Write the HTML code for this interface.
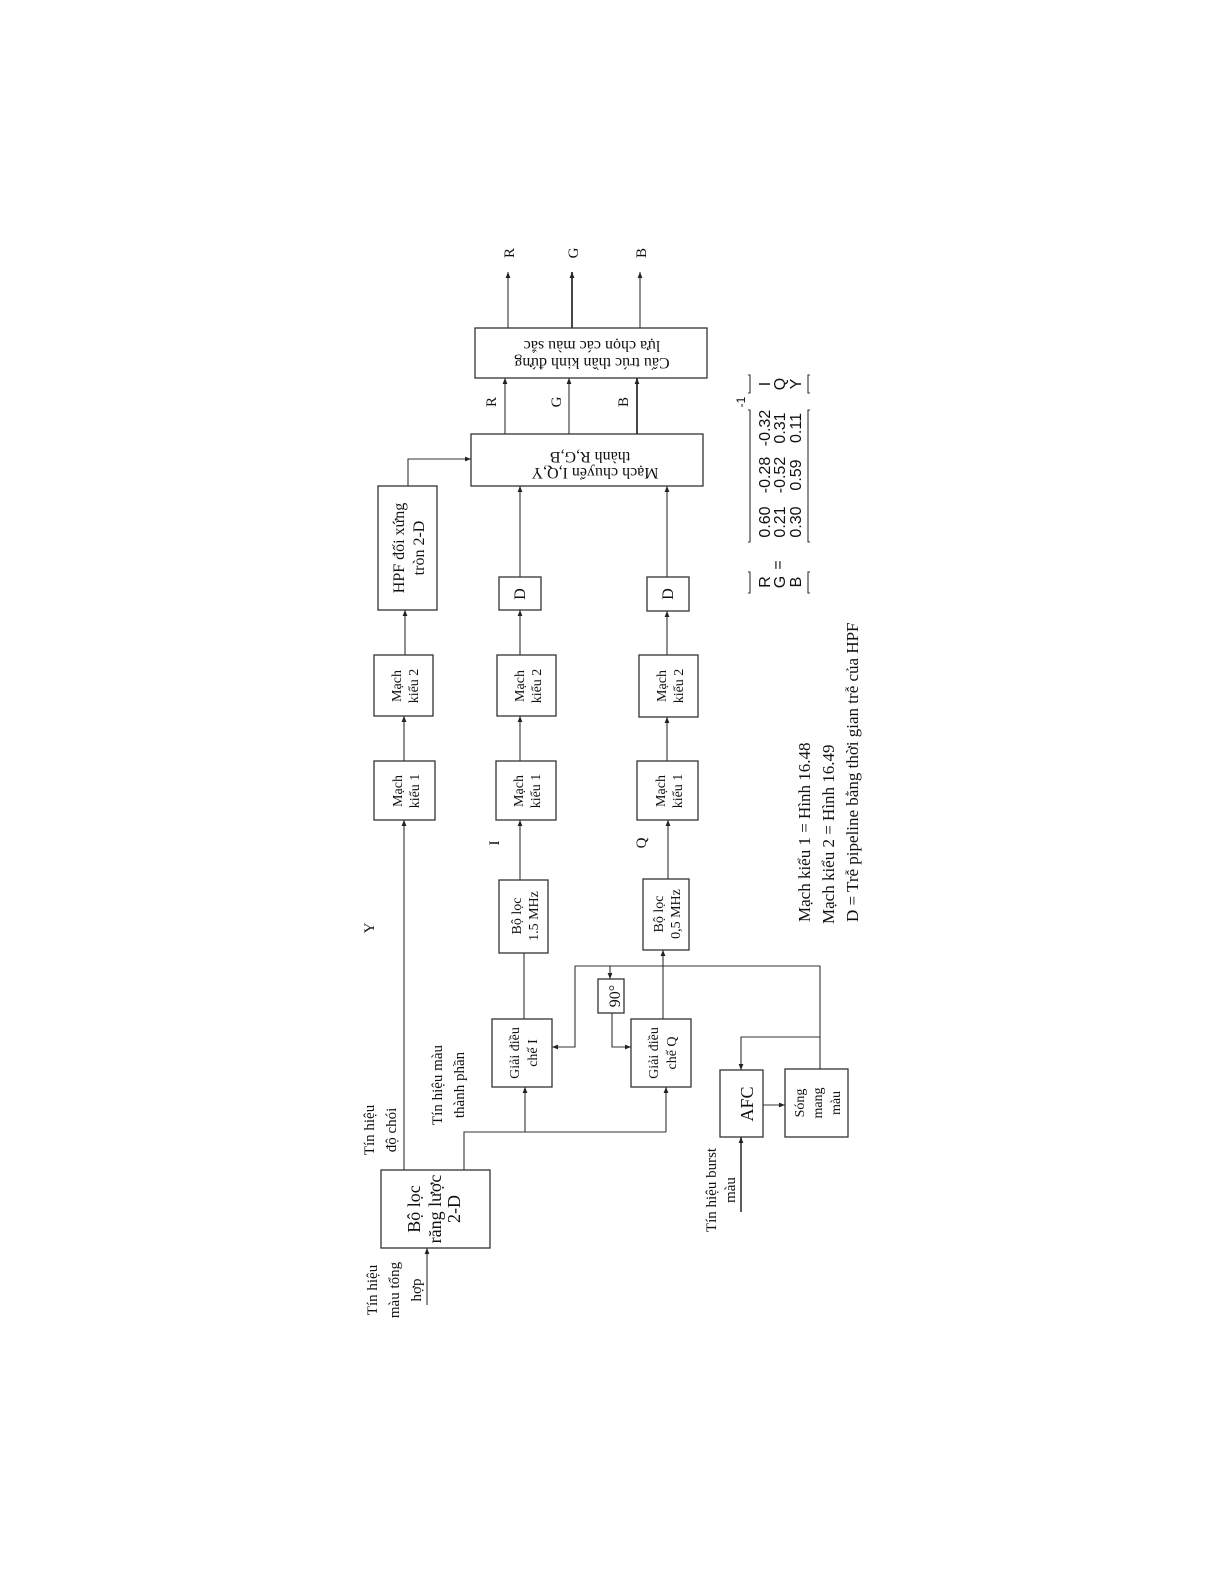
<!DOCTYPE html>
<html><head><meta charset="utf-8"><style>
html,body{margin:0;padding:0;background:#fff;}
svg{display:block;}
text{font-family:"Liberation Serif","DejaVu Serif",serif;fill:#111;}
.s{font-family:"Liberation Sans","DejaVu Sans",sans-serif;}
</style></head><body>
<svg width="1225" height="1585" viewBox="0 0 1225 1585" xmlns="http://www.w3.org/2000/svg">
<defs>
<marker id="a" viewBox="0 0 10 10" refX="10" refY="5" markerWidth="6" markerHeight="6" orient="auto-start-reverse" markerUnits="userSpaceOnUse"><path d="M0,1 L10,5 L0,9 z" fill="#222"/></marker>
</defs>
<g fill="none" stroke="#333" stroke-width="1.3">
<rect x="475" y="328" width="232" height="50"/>
<rect x="471" y="434" width="232" height="52"/>
<rect x="378" y="486" width="59" height="124"/>
<rect x="499" y="577" width="42" height="33"/>
<rect x="647" y="577" width="42" height="34"/>
<rect x="374" y="655" width="59" height="61"/>
<rect x="374" y="761" width="61" height="59"/>
<rect x="497" y="655" width="59" height="61"/>
<rect x="496" y="761" width="60" height="59"/>
<rect x="639" y="655" width="59" height="62"/>
<rect x="637" y="761" width="61" height="59"/>
<rect x="499" y="880" width="49" height="73"/>
<rect x="643" y="879" width="46" height="71"/>
<rect x="381" y="1170" width="109" height="78"/>
<rect x="492" y="1019" width="60" height="68"/>
<rect x="631" y="1019" width="60" height="68"/>
<rect x="598" y="979" width="26" height="34"/>
<rect x="720" y="1070" width="43" height="67"/>
<rect x="785" y="1069" width="63" height="68"/>
</g>
<g fill="none" stroke="#333" stroke-width="1.1">
<line x1="508" y1="328" x2="508" y2="272" marker-end="url(#a)"/>
<line x1="572" y1="328" x2="572" y2="272" marker-end="url(#a)" stroke-width="1.8"/>
<line x1="640" y1="328" x2="640" y2="272" marker-end="url(#a)"/>
<line x1="505" y1="434" x2="505" y2="378" marker-end="url(#a)"/>
<line x1="569" y1="434" x2="569" y2="378" marker-end="url(#a)"/>
<line x1="637" y1="434" x2="637" y2="378" marker-end="url(#a)" stroke-width="1.8"/>
<polyline points="408,486 408,459 471,459" marker-end="url(#a)"/>
<line x1="520" y1="577" x2="520" y2="486" marker-end="url(#a)"/>
<line x1="667" y1="577" x2="667" y2="486" marker-end="url(#a)"/>
<line x1="405" y1="655" x2="405" y2="610" marker-end="url(#a)"/>
<line x1="404" y1="761" x2="404" y2="716" marker-end="url(#a)"/>
<line x1="404" y1="1170" x2="404" y2="820" marker-end="url(#a)"/>
<line x1="520" y1="655" x2="520" y2="610" marker-end="url(#a)"/>
<line x1="520" y1="761" x2="520" y2="716" marker-end="url(#a)"/>
<line x1="520" y1="880" x2="520" y2="820" marker-end="url(#a)"/>
<line x1="667" y1="655" x2="667" y2="611" marker-end="url(#a)"/>
<line x1="667" y1="761" x2="667" y2="717" marker-end="url(#a)"/>
<line x1="668" y1="879" x2="668" y2="820" marker-end="url(#a)"/>
<line x1="524" y1="1019" x2="524" y2="953"/>
<line x1="663" y1="1019" x2="663" y2="950" marker-end="url(#a)"/>
<polyline points="464,1170 464,1132 666,1132"/>
<line x1="525" y1="1132" x2="525" y2="1087" marker-end="url(#a)"/>
<line x1="666" y1="1132" x2="666" y2="1087" marker-end="url(#a)"/>
<line x1="427" y1="1305" x2="427" y2="1248" marker-end="url(#a)"/>
<polyline points="820,1069 820,966 575,966 575,1047 552,1047" marker-end="url(#a)"/>
<line x1="610" y1="966" x2="610" y2="979" marker-end="url(#a)"/>
<polyline points="612,1013 612,1047 631,1047" marker-end="url(#a)"/>
<polyline points="820,1037 741,1037 741,1070" marker-end="url(#a)"/>
<line x1="763" y1="1105" x2="785" y2="1105" marker-end="url(#a)"/>
<line x1="741" y1="1212" x2="741" y2="1137" marker-end="url(#a)" stroke-width="1.6"/>
<polyline points="748,593 750,593 750,572 748,572"/>
<polyline points="810,593 808,593 808,572 810,572"/>
<polyline points="748,542 750,542 750,410 748,410"/>
<polyline points="810,542 808,542 808,410 810,410"/>
<polyline points="748,393 750,393 750,375 748,375"/>
<polyline points="810,393 808,393 808,375 810,375"/>
</g>
<g font-size="16" text-anchor="middle">
<text transform="translate(408,548) rotate(-90)"><tspan x="0" dy="-4">HPF đối xứng</tspan><tspan x="0" dy="20">tròn 2-D</tspan></text>
<text transform="translate(520,594) rotate(-90)" dy="5">D</text>
<text transform="translate(668,594) rotate(-90)" dy="5">D</text>
<text transform="translate(615,996) rotate(-90)" dy="5">90°</text>
<text transform="translate(747,1104) rotate(-90)" dy="6" font-size="18">AFC</text>
</g>
<g font-size="14" text-anchor="middle">
<text transform="translate(404,686) rotate(-90)"><tspan x="0" dy="-3">Mạch</tspan><tspan x="0" dy="17">kiểu 2</tspan></text>
<text transform="translate(405,791) rotate(-90)"><tspan x="0" dy="-3">Mạch</tspan><tspan x="0" dy="17">kiểu 1</tspan></text>
<text transform="translate(527,686) rotate(-90)"><tspan x="0" dy="-3">Mạch</tspan><tspan x="0" dy="17">kiểu 2</tspan></text>
<text transform="translate(526,791) rotate(-90)"><tspan x="0" dy="-3">Mạch</tspan><tspan x="0" dy="17">kiểu 1</tspan></text>
<text transform="translate(669,686) rotate(-90)"><tspan x="0" dy="-3">Mạch</tspan><tspan x="0" dy="17">kiểu 2</tspan></text>
<text transform="translate(668,791) rotate(-90)"><tspan x="0" dy="-3">Mạch</tspan><tspan x="0" dy="17">kiểu 1</tspan></text>
<text transform="translate(524,916) rotate(-90)"><tspan x="0" dy="-3">Bộ lọc</tspan><tspan x="0" dy="17">1.5 MHz</tspan></text>
<text transform="translate(666,914) rotate(-90)"><tspan x="0" dy="-3">Bộ lọc</tspan><tspan x="0" dy="17">0,5 MHz</tspan></text>
<text transform="translate(522,1053) rotate(-90)"><tspan x="0" dy="-3">Giải điều</tspan><tspan x="0" dy="18">chế I</tspan></text>
<text transform="translate(661,1053) rotate(-90)"><tspan x="0" dy="-3">Giải điều</tspan><tspan x="0" dy="18">chế Q</tspan></text>
<text transform="translate(816,1103) rotate(-90)"><tspan x="0" dy="-12">Sóng</tspan><tspan x="0" dy="18">mang</tspan><tspan x="0" dy="18">màu</tspan></text>
</g>
<g font-size="18" text-anchor="middle">
<text transform="translate(435,1209) rotate(-90)"><tspan x="0" dy="-15">Bộ lọc</tspan><tspan x="0" dy="21">răng lược</tspan><tspan x="0" dy="19">2-D</tspan></text>
</g>
<g font-size="16" text-anchor="middle">
<text transform="translate(595,468) rotate(180)">Mạch chuyển I,Q,Y</text>
<text transform="translate(590,452) rotate(180)">thành R,G,B</text>
<text transform="translate(592,358) rotate(180)">Cấu trúc thần kinh đứng</text>
<text transform="translate(592,341) rotate(180)">lựa chọn các màu sắc</text>
</g>
<g font-size="15" text-anchor="middle">
<text transform="translate(514,253) rotate(-90)">R</text>
<text transform="translate(578,253) rotate(-90)">G</text>
<text transform="translate(646,253) rotate(-90)">B</text>
<text transform="translate(496,402) rotate(-90)">R</text>
<text transform="translate(561,402) rotate(-90)">G</text>
<text transform="translate(628,402) rotate(-90)">B</text>
<text transform="translate(374,928) rotate(-90)">Y</text>
<text transform="translate(499,843) rotate(-90)">I</text>
<text transform="translate(646,843) rotate(-90)">Q</text>
<text transform="translate(377,1290) rotate(-90)"><tspan x="0">Tín hiệu</tspan><tspan x="0" dy="22">màu tổng</tspan><tspan x="0" dy="22">hợp</tspan></text>
<text transform="translate(374,1130) rotate(-90)"><tspan x="0">Tín hiệu</tspan><tspan x="0" dy="22">độ chói</tspan></text>
<text transform="translate(442,1085) rotate(-90)"><tspan x="0">Tín hiệu màu</tspan><tspan x="0" dy="22">thành phần</tspan></text>
<text transform="translate(716,1190) rotate(-90)"><tspan x="0">Tín hiệu burst</tspan><tspan x="0" dy="19">màu</tspan></text>
</g>
<g font-size="17" text-anchor="start">
<text transform="translate(810,922) rotate(-90)">Mạch kiểu 1 = Hình 16.48</text>
<text transform="translate(834,924) rotate(-90)">Mạch kiểu 2 = Hình 16.49</text>
<text transform="translate(858,922) rotate(-90)">D = Trễ pipeline bằng thời gian trễ của HPF</text>
</g>
<g font-size="16" text-anchor="middle">
<text class="s" transform="translate(770,582) rotate(-90)">R</text>
<text class="s" transform="translate(785,582) rotate(-90)">G</text>
<text class="s" transform="translate(801,582) rotate(-90)">B</text>
<text class="s" transform="translate(783,565) rotate(-90)">=</text>
<text class="s" transform="translate(770,522) rotate(-90)">0.60</text>
<text class="s" transform="translate(785,522) rotate(-90)">0.21</text>
<text class="s" transform="translate(801,522) rotate(-90)">0.30</text>
<text class="s" transform="translate(770,475) rotate(-90)">-0.28</text>
<text class="s" transform="translate(785,475) rotate(-90)">-0.52</text>
<text class="s" transform="translate(801,475) rotate(-90)">0.59</text>
<text class="s" transform="translate(770,428) rotate(-90)">-0.32</text>
<text class="s" transform="translate(785,428) rotate(-90)">0.31</text>
<text class="s" transform="translate(801,428) rotate(-90)">0.11</text>
<text class="s" transform="translate(745,402) rotate(-90)" font-size="12">-1</text>
<text class="s" transform="translate(770,384) rotate(-90)">I</text>
<text class="s" transform="translate(785,384) rotate(-90)">Q</text>
<text class="s" transform="translate(801,384) rotate(-90)">Y</text>
</g>
</svg>
</body></html>
